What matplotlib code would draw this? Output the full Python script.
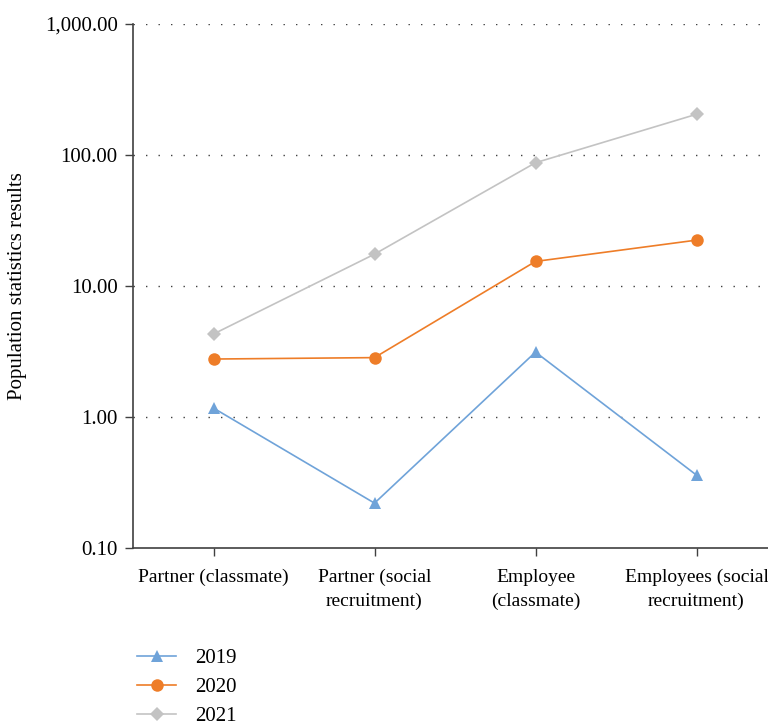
import numpy as np
import matplotlib
matplotlib.use("Agg")
import matplotlib.pyplot as plt
from matplotlib.ticker import FixedLocator, FuncFormatter, NullLocator

plt.rcParams["font.family"] = ["Liberation Serif", "DejaVu Serif"]

# --- data (log scale) ---
categories = ["Partner (classmate)", "Partner (social\nrecruitment)",
              "Employee\n(classmate)", "Employees (social\nrecruitment)"]
years = ["2019", "2020", "2021"]
vals_2019 = [1.17, 0.22, 3.13, 0.36]
vals_2020 = [2.77, 2.84, 15.4, 22.4]
vals_2021 = [4.3, 17.5, 87.3, 204.6]
y_ticks = [0.1, 1, 10, 100, 1000]

series = [
    (vals_2019, "#6FA3D9", "^", 9),
    (vals_2020, "#EE7D28", "o", 9),
    (vals_2021, "#C3C3C3", "D", 7),
]

FS = 15

fig = plt.figure(figsize=(7.68, 7.27), dpi=100)
ax = fig.add_axes([133 / 768, 179 / 727, 644 / 768, 524 / 727])

x = np.arange(len(categories))
for (vals, col, mk, ms), yr in zip(series, years):
    ax.plot(x, vals, color=col, lw=1.2, marker=mk, ms=ms,
            markeredgewidth=0, label=yr, clip_on=False, zorder=3)

ax.set_yscale("log")
ax.set_ylim(0.1, 1000)
ax.set_xlim(-0.5, len(categories) - 0.5)
ax.yaxis.set_major_locator(FixedLocator(y_ticks))
ax.yaxis.set_minor_locator(NullLocator())
ax.yaxis.set_major_formatter(FuncFormatter(lambda v, p: f"{v:,.2f}"))
ax.set_xticks(x)
ax.set_xticklabels(categories, fontsize=14, linespacing=1.5)
ax.tick_params(axis="y", labelsize=FS, length=6, width=1, color="#404040", pad=5)
ax.tick_params(axis="x", length=6, width=1, color="#404040", pad=9)

for v in y_ticks[1:]:
    ax.axhline(v, color="#404040", lw=1.0, ls=(0, (1, 8)), zorder=1)

for s in ["top", "right"]:
    ax.spines[s].set_visible(False)
for s in ["left", "bottom"]:
    ax.spines[s].set_color("#404040")
    ax.spines[s].set_linewidth(1.2)

fig.text(18 / 768, 1 - 286 / 727, "Population statistics results",
         rotation=90, va="center", ha="center", fontsize=FS)

fig.legend(loc="upper left", bbox_to_anchor=(118 / 768, 1 - 630 / 727),
           frameon=False, fontsize=FS, handlelength=1.9, labelspacing=0.45,
           handletextpad=0.9)

fig.savefig("out.png", dpi=100)
